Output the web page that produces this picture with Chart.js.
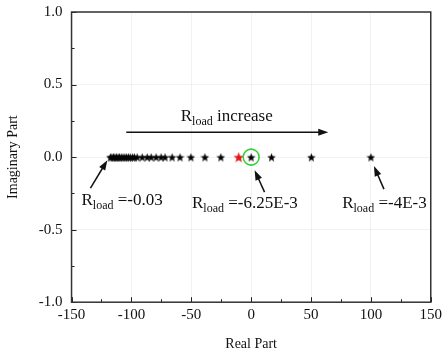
<!DOCTYPE html>
<html>
<head>
<meta charset="utf-8">
<script src="https://cdn.jsdelivr.net/npm/chart.js@4/dist/chart.umd.min.js"></script>
<style>
  html, body { margin: 0; padding: 0; background: #fff; overflow: hidden; }
  #wrap { width: 446px; height: 360px; margin-top: -6px; }
</style>
</head>
<body>
<div id="wrap"><canvas id="c"></canvas></div>
<script>
// root locus points (real part), all on the real axis
const realParts = [-117.6, -116.3, -115, -113.8, -112.5, -111.2, -110, -108.5, -107, -105.5,
  -104, -102.5, -101, -99, -97.5, -95.2, -91, -86.8, -83.5, -79.4, -75.2, -71.9, -66,
  -59.4, -50.3, -38.6, -25.3, 0, 17, 50.3, 100];
const redPoint = [-10.4];
const circledPoint = [0];
const xTicks = [-150, -100, -50, 0, 50, 100, 150];
const yTicks = [-1.0, -0.5, 0.0, 0.5, 1.0];

const serif = '"Liberation Serif", "Times New Roman", serif';

function makeStar(size, color) {
  const c = document.createElement('canvas');
  c.width = size; c.height = size;
  const g = c.getContext('2d');
  const R = size / 2, r = R * 0.42;
  g.beginPath();
  for (let i = 0; i < 10; i++) {
    const rad = i % 2 ? r : R;
    const a = -Math.PI / 2 + i * Math.PI / 5;
    const px = R + rad * Math.cos(a), py = R + 0.6 + rad * Math.sin(a);
    i ? g.lineTo(px, py) : g.moveTo(px, py);
  }
  g.closePath();
  g.fillStyle = color;
  g.fill();
  return c;
}
const blackStar = makeStar(9, '#000');
const redStar = makeStar(11, '#e8141c');

// annotations: text and arrows, positioned in data coordinates
const notes = [
  { x: -141.7, y: -0.331, value: '=-0.03' },
  { x: -49.4, y: -0.352, value: '=-6.25E-3' },
  { x: 76.0, y: -0.352, value: '=-4E-3' },
  { x: -58.8, y: 0.248, value: 'increase' }
];
const arrows = [
  { from: [-104.3, 0.172], to: [64.4, 0.172] },
  { from: [-134.2, -0.214], to: [-120.1, -0.021] },
  { from: [11.2, -0.241], to: [2.9, -0.09] },
  { from: [110.9, -0.221], to: [102.6, -0.062] }
];

const decor = {
  id: 'decor',
  afterDatasetsDraw(chart) {
    const { ctx, chartArea: a, scales: { x, y } } = chart;
    ctx.save();
    // inward ticks on left and bottom
    ctx.strokeStyle = '#222';
    ctx.lineWidth = 1;
    for (let v = -150; v <= 150; v += 25) {
      const px = Math.round(x.getPixelForValue(v)) + 0.5;
      const len = v % 50 === 0 ? 5 : 3;
      ctx.beginPath(); ctx.moveTo(px, a.bottom); ctx.lineTo(px, a.bottom - len); ctx.stroke();
    }
    for (let v = -1; v <= 1.001; v += 0.25) {
      const py = Math.round(y.getPixelForValue(v)) + 0.5;
      const len = Math.abs(v * 2 - Math.round(v * 2)) < 1e-6 ? 5 : 3;
      ctx.beginPath(); ctx.moveTo(a.left, py); ctx.lineTo(a.left + len, py); ctx.stroke();
    }
    // frame
    ctx.lineWidth = 1.5;
    ctx.strokeStyle = '#333';
    ctx.strokeRect(a.left, a.top, a.right - a.left, a.bottom - a.top);

    // arrows
    ctx.strokeStyle = '#111';
    ctx.fillStyle = '#111';
    ctx.lineWidth = 1.5;
    arrows.forEach(ar => {
      const x0 = x.getPixelForValue(ar.from[0]), y0 = y.getPixelForValue(ar.from[1]);
      const x1 = x.getPixelForValue(ar.to[0]), y1 = y.getPixelForValue(ar.to[1]);
      const ang = Math.atan2(y1 - y0, x1 - x0);
      const hl = 10, hw = 3.5;
      ctx.beginPath();
      ctx.moveTo(x0, y0);
      ctx.lineTo(x1 - hl * 0.8 * Math.cos(ang), y1 - hl * 0.8 * Math.sin(ang));
      ctx.stroke();
      ctx.beginPath();
      ctx.moveTo(x1, y1);
      ctx.lineTo(x1 - hl * Math.cos(ang) + hw * Math.sin(ang), y1 - hl * Math.sin(ang) - hw * Math.cos(ang));
      ctx.lineTo(x1 - hl * Math.cos(ang) - hw * Math.sin(ang), y1 - hl * Math.sin(ang) + hw * Math.cos(ang));
      ctx.closePath();
      ctx.fill();
    });

    // labels R_load ...
    ctx.fillStyle = '#111';
    ctx.textBaseline = 'alphabetic';
    ctx.textAlign = 'left';
    notes.forEach(n => {
      let px = x.getPixelForValue(n.x), py = y.getPixelForValue(n.y);
      ctx.font = '17px ' + serif;
      ctx.fillText('R', px, py);
      px += ctx.measureText('R').width;
      ctx.font = '12px ' + serif;
      ctx.fillText('load', px, py + 4);
      px += ctx.measureText('load').width;
      ctx.font = '17px ' + serif;
      px += ctx.measureText(' ').width;
      ctx.fillText(n.value, px, py);
    });
    ctx.restore();
  }
};

new Chart(document.getElementById('c'), {
  type: 'scatter',
  data: {
    datasets: [
      {
        data: realParts.map(v => ({ x: v, y: 0 })),
        pointStyle: blackStar,
        order: 2
      },
      {
        data: redPoint.map(v => ({ x: v, y: 0 })),
        pointStyle: redStar,
        order: 1
      },
      {
        data: circledPoint.map(v => ({ x: v, y: 0 })),
        pointStyle: 'circle',
        pointRadius: 8,
        borderColor: '#33d133',
        backgroundColor: 'rgba(0,0,0,0)',
        borderWidth: 1.6,
        order: 0
      }
    ]
  },
  options: {
    responsive: true,
    maintainAspectRatio: false,
    animation: false,
    layout: { padding: { top: -2, right: 8, left: 1, bottom: -3 } },
    plugins: { legend: { display: false }, tooltip: { enabled: false } },
    scales: {
      x: {
        type: 'linear',
        min: -150, max: 150,
        afterBuildTicks: s => { s.ticks = xTicks.map(v => ({ value: v })); },
        ticks: { color: '#111', font: { family: serif, size: 15 }, padding: 4, maxRotation: 0 },
        grid: { color: 'rgba(0,0,0,0.05)', drawTicks: false },
        border: { display: false },
        title: { display: true, text: 'Real Part', color: '#111', font: { family: serif, size: 14 }, padding: { top: 8 } }
      },
      y: {
        type: 'linear',
        min: -1, max: 1,
        afterBuildTicks: s => { s.ticks = yTicks.map(v => ({ value: v })); },
        ticks: { color: '#111', font: { family: serif, size: 15 }, padding: 9, callback: v => Number(v).toFixed(1) },
        grid: { color: 'rgba(0,0,0,0.05)', drawTicks: false },
        border: { display: false },
        title: { display: true, text: 'Imaginary Part', color: '#111', font: { family: serif, size: 14 }, padding: { bottom: 8 } }
      }
    }
  },
  plugins: [decor]
});
</script>
</body>
</html>
